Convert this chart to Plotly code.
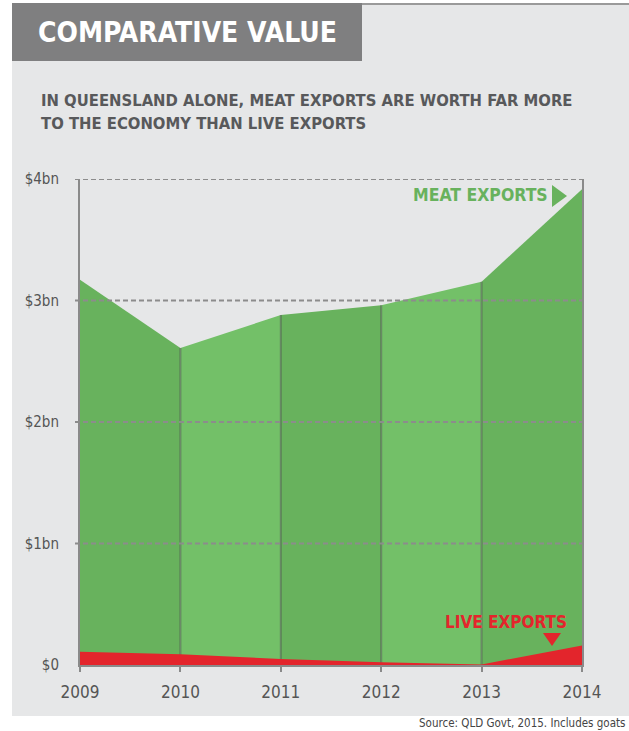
import plotly.graph_objects as go

# ---- data ----
years = [2009, 2010, 2011, 2012, 2013, 2014]
meat_exports = [3.17, 2.61, 2.88, 2.96, 3.155, 3.915]   # $bn
live_exports = [0.11, 0.088, 0.05, 0.022, 0.005, 0.16]   # $bn
y_ticks = [0, 1, 2, 3, 4]
y_ticktext = ["$0", "$1bn", "$2bn", "$3bn", "$4bn"]
grid_values = [1, 2, 3, 4]

title = "COMPARATIVE VALUE"
subtitle_1 = "IN QUEENSLAND ALONE, MEAT EXPORTS ARE WORTH FAR MORE"
subtitle_2 = "TO THE ECONOMY THAN LIVE EXPORTS"
source = "Source: QLD Govt, 2015. Includes goats"

# ---- layout helpers (pixel -> paper) ----
W, H = 629, 731
L, R, T, B = 80, 582, 179, 665
def PX(px):
    return (px - L) / (R - L)
def PY(py):
    return (B - py) / (B - T)

NARROW = "DejaVu Sans Condensed, sans-serif"
DARK_G = "#68b25d"
LIGHT_G = "#73c068"
RED = "#e3252c"
GRID = "#8c8c8c"

fig = go.Figure()

# alternating green bands for meat exports
for i in range(len(years) - 1):
    fig.add_trace(go.Scatter(
        x=[years[i], years[i + 1]], y=[meat_exports[i], meat_exports[i + 1]],
        mode="lines", line=dict(width=0, color=DARK_G if i % 2 == 0 else LIGHT_G),
        fill="tozeroy", fillcolor=DARK_G if i % 2 == 0 else LIGHT_G,
        hoverinfo="skip", showlegend=False))

# interior year dividers
for i in range(1, len(years) - 1):
    fig.add_trace(go.Scatter(
        x=[years[i], years[i]], y=[0, meat_exports[i]], mode="lines",
        line=dict(width=2, color="rgba(80,90,80,0.55)"),
        hoverinfo="skip", showlegend=False))

# live exports
fig.add_trace(go.Scatter(
    x=years, y=live_exports, mode="lines", line=dict(width=0, color=RED),
    fill="tozeroy", fillcolor=RED, hoverinfo="skip", showlegend=False))

shapes = []
# panel background
shapes.append(dict(type="rect", xref="paper", yref="paper", x0=PX(12), x1=PX(W + 5),
                   y0=PY(716), y1=PY(3), fillcolor="#e6e7e8", line=dict(width=0), layer="below"))
# top border line
shapes.append(dict(type="line", xref="paper", yref="paper", x0=PX(12), x1=PX(W + 5),
                   y0=PY(4), y1=PY(4), line=dict(color="#9a9a9a", width=2), layer="below"))
# title box
shapes.append(dict(type="rect", xref="paper", yref="paper", x0=PX(12), x1=PX(362),
                   y0=PY(61), y1=PY(3), fillcolor="#7f7f80", line=dict(width=0), layer="below"))
# dashed gridlines over the areas
for g in grid_values:
    shapes.append(dict(type="line", xref="paper", yref="y", x0=PX(75), x1=1, y0=g, y1=g,
                       line=dict(color=GRID, width=2, dash="5px,3px"), layer="above"))
# label pointers
shapes.append(dict(type="path", xref="paper", yref="paper",
                   path=f"M {PX(552)} {PY(185)} L {PX(567)} {PY(196)} L {PX(552)} {PY(207)} Z",
                   fillcolor=DARK_G, line=dict(width=0), layer="above"))
shapes.append(dict(type="path", xref="paper", yref="paper",
                   path=f"M {PX(543)} {PY(633)} L {PX(561)} {PY(633)} L {PX(552)} {PY(646)} Z",
                   fillcolor=RED, line=dict(width=0), layer="above"))

annotations = [
    dict(text=title, x=PX(36), y=PY(33), xref="paper", yref="paper", xanchor="left",
         yanchor="middle", showarrow=False, font=dict(family=NARROW, size=28, color="white",
                                                       weight="bold")),
    dict(text=subtitle_1, x=PX(39), y=PY(101), xref="paper", yref="paper", xanchor="left",
         yanchor="middle", showarrow=False, font=dict(family=NARROW, size=16.5, color="#58595b",
                                                       weight="bold")),
    dict(text=subtitle_2, x=PX(39), y=PY(123), xref="paper", yref="paper", xanchor="left",
         yanchor="middle", showarrow=False, font=dict(family=NARROW, size=16.5, color="#58595b",
                                                       weight="bold")),
    dict(text="MEAT EXPORTS", x=PX(550), y=PY(195), xref="paper", yref="paper", xanchor="right",
         yanchor="middle", showarrow=False, font=dict(family=NARROW, size=17.5, color=DARK_G,
                                                       weight="bold")),
    dict(text="LIVE EXPORTS", x=PX(569), y=PY(622), xref="paper", yref="paper", xanchor="right",
         yanchor="middle", showarrow=False, font=dict(family=NARROW, size=17, color=RED,
                                                       weight="bold")),
    dict(text=source, x=PX(W - 2), y=PY(714), xref="paper", yref="paper", xanchor="right",
         yanchor="top", showarrow=False, font=dict(family=NARROW, size=11.5, color="#444444")),
]

fig.update_layout(
    width=W, height=H,
    margin=dict(l=L, r=W - R, t=T, b=H - B, pad=0),
    paper_bgcolor="white", plot_bgcolor="rgba(0,0,0,0)",
    shapes=shapes, annotations=annotations, showlegend=False,
    xaxis=dict(range=[years[0], years[-1]], tickvals=years, ticktext=[str(y) for y in years],
               showgrid=False, zeroline=False, showline=True, linecolor="#8a8a8a", linewidth=2,
               ticks="outside", ticklen=5, tickcolor="#8a8a8a", tickwidth=1.5,
               tickfont=dict(family=NARROW, size=17, color="#555555"), ticklabelstandoff=6,
               fixedrange=True),
    yaxis=dict(range=[0, 4], tickvals=y_ticks, ticktext=y_ticktext, showgrid=False,
               zeroline=False, showline=True, mirror=True, linecolor="#8a8a8a", linewidth=2,
               ticks="", tickfont=dict(family=NARROW, size=15, color="#555555"),
               ticklabelstandoff=16, fixedrange=True),
)

fig.write_html("out.html")
